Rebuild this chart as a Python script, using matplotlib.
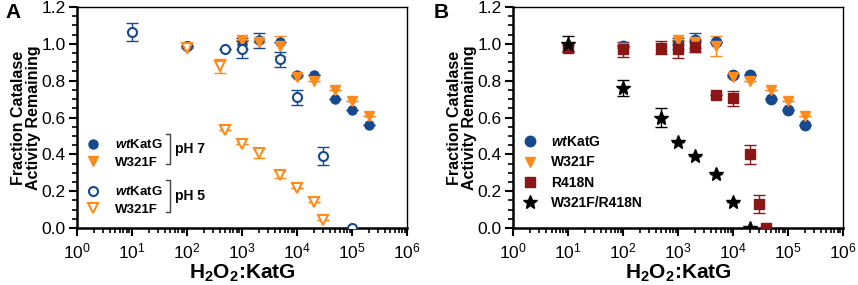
import matplotlib
matplotlib.use('Agg')
import matplotlib.pyplot as plt
import numpy as np

plt.rcParams['font.family'] = ['Liberation Sans', 'DejaVu Sans']
plt.rcParams['mathtext.fontset'] = 'custom'
plt.rcParams['mathtext.rm'] = 'Liberation Sans:bold'
plt.rcParams['mathtext.bf'] = 'Liberation Sans:bold'
plt.rcParams['mathtext.it'] = 'Liberation Sans:italic:bold'

BLUE = '#17498f'
ORANGE = '#ff8a1c'
DRED = '#8a1616'

# pH 7 data (shared by both panels)
wt7_x = [100, 1000, 2000, 5000, 1e4, 2e4, 5e4, 1e5, 2e5]
wt7_y = [0.99, 1.00, 1.02, 1.01, 0.83, 0.83, 0.70, 0.64, 0.56]
wt7_e = [0.0, 0.03, 0.04, 0.0, 0.0, 0.0, 0.0, 0.0, 0.0]
w3_7_x = [100, 1000, 2000, 5000, 1e4, 2e4, 5e4, 1e5, 2e5]
w3_7_y = [0.98, 1.02, 1.01, 0.99, 0.82, 0.80, 0.75, 0.69, 0.61]
w3_7_e = [0.0, 0.0, 0.0, 0.055, 0.0, 0.0, 0.0, 0.0, 0.0]

# pH 5 data
wt5_x = [10, 100, 500, 1000, 5000, 1e4, 3e4, 1e5]
wt5_y = [1.065, 0.99, 0.97, 0.97, 0.915, 0.71, 0.39, 0.0]
wt5_e = [0.05, 0.0, 0.0, 0.045, 0.04, 0.04, 0.05, 0.0]
w3_5_x = [100, 400, 500, 1000, 2000, 5000, 1e4, 2e4, 3e4]
w3_5_y = [0.98, 0.88, 0.53, 0.455, 0.405, 0.29, 0.215, 0.14, 0.045]
w3_5_e = [0.0, 0.04, 0.0, 0.0, 0.025, 0.02, 0.0, 0.0, 0.0]

# mutants (panel B)
r418_x = [10, 100, 500, 1000, 2000, 5000, 1e4, 2e4, 3e4, 4e4]
r418_y = [0.975, 0.97, 0.98, 0.97, 0.985, 0.72, 0.705, 0.40, 0.13, 0.0]
r418_e = [0.02, 0.04, 0.035, 0.045, 0.03, 0.0, 0.04, 0.05, 0.05, 0.0]
dbl_x = [10, 100, 500, 1000, 2000, 5000, 1e4, 2e4]
dbl_y = [1.00, 0.76, 0.60, 0.465, 0.39, 0.295, 0.14, 0.0]
dbl_e = [0.04, 0.045, 0.05, 0.0, 0.0, 0.0, 0.0, 0.0]

fig = plt.figure(figsize=(8.58, 2.85), dpi=100)
axA = fig.add_axes([0.0897, 0.2, 0.3847, 0.7754])
axB = fig.add_axes([0.598, 0.2, 0.3845, 0.7754])


def series(ax, x, y, e, marker, color, filled=True, ms=6.5, label=None):
    ax.errorbar(x, y, yerr=e, fmt='none', ecolor=color, elinewidth=1,
                capsize=4, capthick=1, zorder=2)
    ax.plot(x, y, linestyle='none', marker=marker, markersize=ms,
            markerfacecolor=color if filled else 'white',
            markeredgecolor=color, markeredgewidth=1.5 if not filled else 1,
            zorder=3, label=label)


def style(ax):
    ax.set_xscale('log')
    ax.set_xlim(1, 1e6)
    ax.set_ylim(0, 1.2)
    ax.set_yticks(np.arange(0, 1.21, 0.2))
    ax.set_yticks(np.arange(0, 1.21, 0.05), minor=True)
    ax.set_yticklabels(['%.1f' % v for v in np.arange(0, 1.21, 0.2)])
    ax.set_xticks([10.0 ** k for k in range(7)])
    ax.set_xticklabels([r'$\mathdefault{10^{%d}}$' % k for k in range(7)])
    ax.tick_params(which='major', length=6, width=1.5, labelsize=12.5)
    ax.tick_params(axis='x', which='major', pad=4)
    ax.tick_params(axis='y', which='major', pad=2)
    ax.tick_params(which='minor', length=3.5, width=1.2)
    for s in ['left', 'bottom']:
        ax.spines[s].set_linewidth(1.8)
    for s in ['top', 'right']:
        ax.spines[s].set_linewidth(1.0)
    ax.set_ylabel('Fraction Catalase\nActivity Remaining', fontsize=11.5,
                  fontweight='bold', linespacing=1.0)
    ax.yaxis.set_label_coords(-0.11, 0.5)
    ax.set_xlabel(r'H$_\mathbf{2}$O$_\mathbf{2}$:KatG', fontsize=15,
                  fontweight='bold')
    ax.xaxis.set_label_coords(0.5, -0.158)


# Panel A
series(axA, wt7_x, wt7_y, wt7_e, 'o', BLUE, label=r'$\it{wt}$KatG')
series(axA, w3_7_x, w3_7_y, w3_7_e, 'v', ORANGE, label='W321F')
series(axA, wt5_x, wt5_y, wt5_e, 'o', BLUE, filled=False, label=r'$\it{wt}$KatG')
series(axA, w3_5_x, w3_5_y, w3_5_e, 'v', ORANGE, filled=False, label='W321F')
style(axA)

h, l = axA.get_legend_handles_labels()
leg_kw = dict(loc='upper left', frameon=False, prop={'weight': 'bold', 'size': 9.5},
              handletextpad=1.0, labelspacing=0.4, handlelength=1.2,
              borderaxespad=0)
leg1 = axA.legend(h[:2], l[:2], bbox_to_anchor=(0.01, 0.43), **leg_kw)
axA.add_artist(leg1)
axA.legend(h[2:], l[2:], bbox_to_anchor=(0.01, 0.217), **leg_kw)
# brackets
for y0, y1, txt in [(0.425, 0.29, 'pH 7'), (0.217, 0.072, 'pH 5')]:
    axA.plot([0.27, 0.283, 0.283, 0.27], [y0, y0, y1, y1],
             transform=axA.transAxes, color='#444444', lw=1, clip_on=False)
    axA.text(0.297, (y0 + y1) / 2, txt, transform=axA.transAxes,
             fontsize=10, fontweight='bold', va='center', ha='left')

fig.text(0.006, 0.99, 'A', fontsize=15, fontweight='bold', va='top', ha='left')

# Panel B
series(axB, wt7_x, wt7_y, wt7_e, 'o', BLUE, ms=7.5, label=r'$\it{wt}$KatG')
series(axB, w3_7_x, w3_7_y, w3_7_e, 'v', ORANGE, ms=7.5, label='W321F')
series(axB, r418_x, r418_y, r418_e, 's', DRED, ms=7, label='R418N')
series(axB, dbl_x, dbl_y, dbl_e, '*', 'black', ms=10, label='W321F/R418N')
style(axB)
axB.legend(loc='upper left', bbox_to_anchor=(0.01, 0.445), frameon=False,
           prop={'weight': 'bold', 'size': 10}, handletextpad=0.9,
           labelspacing=0.45, handlelength=1.2, borderaxespad=0)
fig.text(0.505, 0.99, 'B', fontsize=15, fontweight='bold', va='top', ha='left')

fig.savefig('out.png', dpi=100)
